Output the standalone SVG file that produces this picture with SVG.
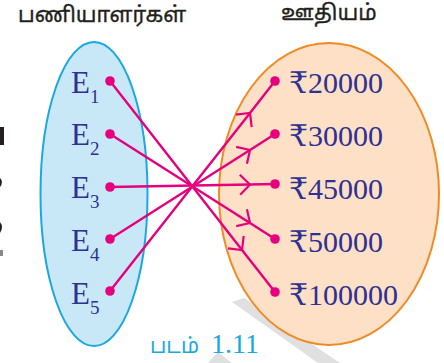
<svg xmlns="http://www.w3.org/2000/svg" width="444" height="363" viewBox="0 0 444 363">
<style>
.title{font-family:"Noto Sans Tamil","Latha","Lohit Tamil","Noto Sans",sans-serif;font-size:21.5px;fill:#231f20;stroke:#231f20;stroke-width:0.35px;}
.e{font-family:"Liberation Serif","Times New Roman",serif;font-size:31px;fill:#2e3192;}
.sub{font-size:19px;}
.amt{font-family:"Liberation Serif","DejaVu Serif",serif;font-size:30px;fill:#2e3192;}
.cap{fill:#1aa8e0;stroke:none;}
.conn{fill:none;stroke:#e6007e;stroke-width:2.4;}
</style>
<defs>
<marker id="dot" markerUnits="userSpaceOnUse" markerWidth="12" markerHeight="12" refX="6" refY="6" viewBox="0 0 12 12">
<circle cx="6" cy="6" r="4.8" fill="#e6007e"/>
</marker>
<marker id="chev" markerUnits="userSpaceOnUse" markerWidth="16" markerHeight="24" refX="11" refY="12" viewBox="0 0 16 24" orient="auto">
<path d="M1,2 L11,12 L1,22" fill="none" stroke="#e6007e" stroke-width="2.2"/>
</marker>
</defs>
<rect width="444" height="363" fill="#ffffff"/>
<g id="watermark" fill="#9a9a9a" opacity="0.3">
<path d="M232,302 L244,298 L340,363 L318,363 Z"/>
<path d="M262,312 L274,303 L284,316 L272,325 Z"/>
<path d="M208,363 L218,352 L232,363 Z"/>
</g>
<g id="edge-fragments" fill="#231f20">
<rect x="0" y="127" width="4" height="18"/>
<path d="M0,178 Q4,182 0,187 Z"/>
<path d="M0,222 Q4,227 0,233 Z"/>
<rect x="0" y="250" width="3" height="6" fill="#888"/>
</g>
<g id="employees">
<ellipse cx="94" cy="194" rx="53.5" ry="152" fill="#c8e8f8" stroke="#1aa8e0" stroke-width="2"/>
<text class="title" x="18" y="22">பணியாளர்கள்</text>
</g>
<g id="salary">
<ellipse cx="329" cy="194" rx="110" ry="151" fill="#fde0c6" stroke="#f08a24" stroke-width="2"/>
<text class="title" x="281" y="20">ஊதியம்</text>
</g>
<g id="E1"><text class="e" x="71" y="93">E<tspan class="sub" dy="10">1</tspan></text></g>
<g id="E2"><text class="e" x="71" y="145">E<tspan class="sub" dy="10">2</tspan></text></g>
<g id="E3"><text class="e" x="71" y="198">E<tspan class="sub" dy="10">3</tspan></text></g>
<g id="E4"><text class="e" x="71" y="251">E<tspan class="sub" dy="10">4</tspan></text></g>
<g id="E5"><text class="e" x="71" y="304">E<tspan class="sub" dy="10">5</tspan></text></g>
<g id="S20000"><text class="amt" x="289" y="93">₹20000</text></g>
<g id="S30000"><text class="amt" x="289" y="146">₹30000</text></g>
<g id="S45000"><text class="amt" x="289" y="199">₹45000</text></g>
<g id="S50000"><text class="amt" x="289" y="252">₹50000</text></g>
<g id="S100000"><text class="amt" x="289" y="305">₹100000</text></g>
<g id="connectors">
<path class="conn" marker-start="url(#dot)" marker-mid="url(#chev)" marker-end="url(#dot)" d="M110,81 L242,250 L275,292"/>
<path class="conn" marker-start="url(#dot)" marker-mid="url(#chev)" marker-end="url(#dot)" d="M110,134 L250,223 L275,239"/>
<path class="conn" marker-start="url(#dot)" marker-mid="url(#chev)" marker-end="url(#dot)" d="M110,187 L250,184.5 L275,184"/>
<path class="conn" marker-start="url(#dot)" marker-mid="url(#chev)" marker-end="url(#dot)" d="M110,239 L250,150 L275,134"/>
<path class="conn" marker-start="url(#dot)" marker-mid="url(#chev)" marker-end="url(#dot)" d="M110,291 L250,113 L275,81"/>
</g>
<g id="caption">
<text class="title cap" x="150" y="353" style="font-size:21px">படம்</text>
<text class="e cap" x="211" y="353" style="font-size:28px">1.11</text>
</g>
</svg>
